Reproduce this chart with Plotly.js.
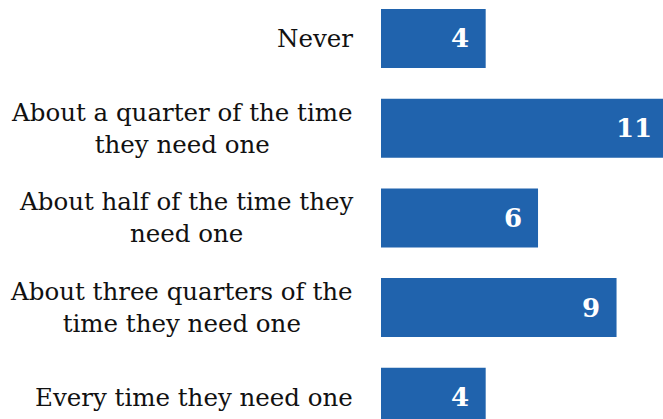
<!DOCTYPE html>
<html>
<head>
<meta charset="utf-8">
<script src="https://cdn.plot.ly/plotly-3.0.1.min.js"></script>
<style>html,body{margin:0;padding:0;background:#fff;}#chart{width:663px;height:419px;}</style>
</head>
<body>
<div id="chart"></div>
<script>
const categories = [
  "Never",
  "About a quarter of the time<br>they need one",
  "About half of the time they<br>need one",
  "About three quarters of the<br>time they need one",
  "Every time they need one"
];
const values = [4, 11, 6, 9, 4];
const valueLabels = ["4", "11", "6", "9", "4"];

const trace = {
  type: "bar",
  orientation: "h",
  y: categories,
  x: values,
  width: 0.658,
  marker: {color: "#2063AD", line: {width: 0}},
  hoverinfo: "none",
  cliponaxis: true
};

const plotLeft = 381, plotWidth = 282;
const pxPerUnit = 26.17;
const labelInset = 14.5 / pxPerUnit;

const valueAnnotations = values.map((v, i) => ({
  x: v - labelInset, y: categories[i], xref: "x", yref: "y",
  text: valueLabels[i], showarrow: false,
  xanchor: "right", yanchor: "middle",
  font: {family: "DejaVu Serif", size: 26, color: "#ffffff", weight: "bold"}
}));

const categoryAnnotations = categories.map((c) => ({
  x: (355 - plotLeft) / plotWidth, y: c, xref: "paper", yref: "y",
  text: c, showarrow: false,
  xanchor: "right", yanchor: "middle", align: "center",
  font: {family: "DejaVu Serif", size: 24.5, color: "#111111"}
}));

const layout = {
  width: 663, height: 419,
  margin: {l: plotLeft, r: 0, t: 0, b: 0, pad: 0},
  paper_bgcolor: "#ffffff", plot_bgcolor: "#ffffff",
  showlegend: false,
  xaxis: {range: [0, 10.775], visible: false, fixedrange: true},
  yaxis: {
    type: "category",
    range: [4.242, -0.429],
    showgrid: false, zeroline: false, showline: false, ticks: "",
    showticklabels: false,
    fixedrange: true
  },
  annotations: categoryAnnotations.concat(valueAnnotations)
};

Plotly.newPlot("chart", [trace], layout, {staticPlot: true, displayModeBar: false});
</script>
</body>
</html>
